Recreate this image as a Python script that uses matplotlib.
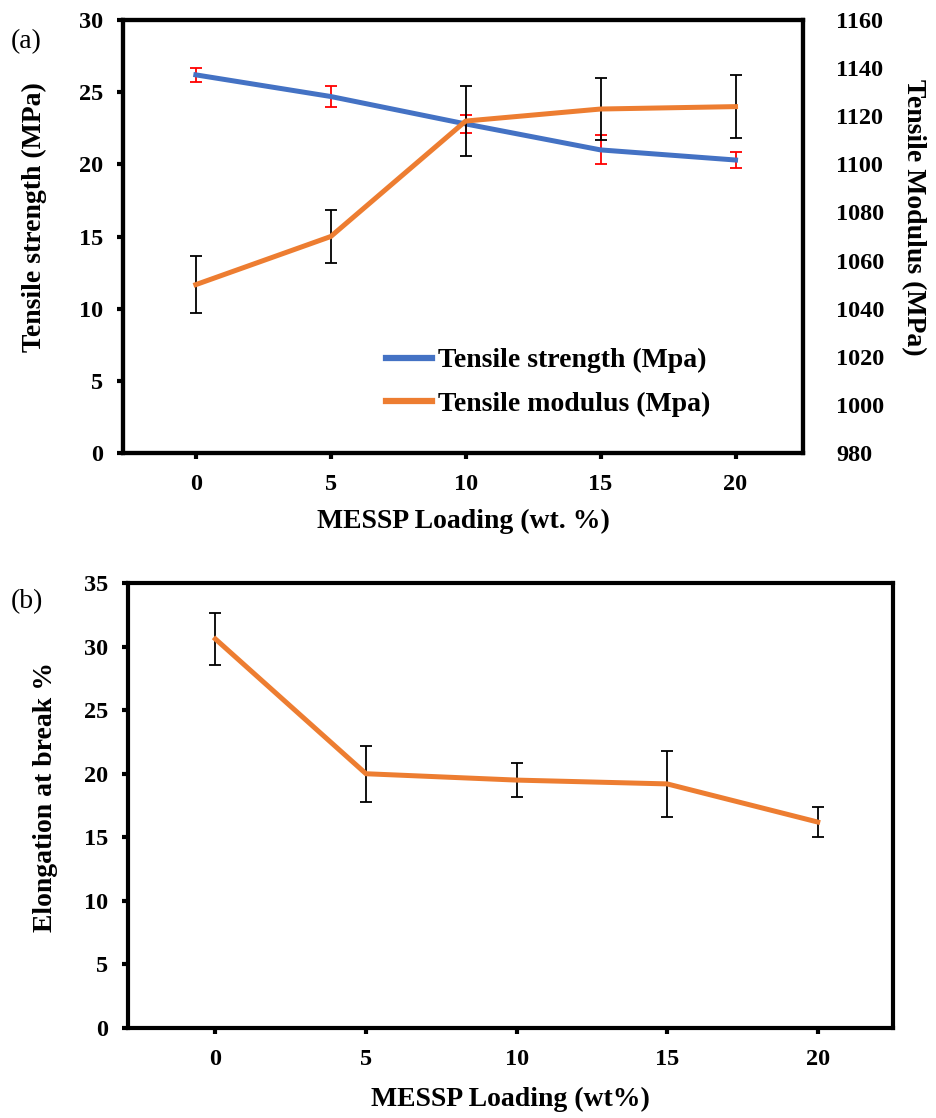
import numpy as np
import matplotlib
matplotlib.use("Agg")
import matplotlib.pyplot as plt
from matplotlib.lines import Line2D

plt.rcParams["font.family"] = ["Liberation Serif", "DejaVu Serif"]
plt.rcParams["font.weight"] = "bold"
plt.rcParams["axes.labelweight"] = "bold"

# MESSP loading (wt. %)
loading = [0, 5, 10, 15, 20]

# panel (a)
strength = [26.2, 24.7, 22.8, 21.0, 20.3]
strength_err = [0.5, 0.75, 0.65, 1.0, 0.55]
modulus = [1050, 1070, 1118, 1123, 1124]
modulus_err = [12, 11, 14.5, 13, 13]

# panel (b)
elongation = [30.6, 20.0, 19.5, 19.2, 16.2]
elongation_err = [2.05, 2.2, 1.35, 2.6, 1.2]

BLUE = "#4472C4"
ORANGE = "#ED7D31"
TICK_FS = 17.5
LABEL_FS = 20
SPINE_W = 3.0

fig = plt.figure(figsize=(9.36, 11.18), dpi=100)


def style_axes(ax):
    for s in ax.spines.values():
        s.set_linewidth(SPINE_W)
        s.set_color("black")
    ax.tick_params(axis="both", direction="out", length=4, width=SPINE_W,
                   labelsize=TICK_FS, pad=11)
    for lab in ax.get_xticklabels() + ax.get_yticklabels():
        lab.set_fontweight("bold")


# ---- (a) tensile strength / modulus ----
ax1 = fig.add_axes([0.1314, 0.5948, 0.7265, 0.3873])
ax1.errorbar(loading, strength, yerr=strength_err, color=BLUE, lw=3.6,
             ecolor="red", elinewidth=1.3, capsize=4, capthick=1.3)
ax1.set_xlim(-2.7, 22.5)
ax1.set_ylim(0, 30)
ax1.set_xticks(loading)
ax1.set_yticks(np.arange(0, 31, 5))
ax1.set_xlabel("MESSP Loading (wt. %)", fontsize=LABEL_FS, labelpad=10)
ax1.set_ylabel("Tensile strength (MPa)", fontsize=LABEL_FS)
ax1.yaxis.set_label_coords(-0.112, 0.545)
style_axes(ax1)
ax1.tick_params(axis="y", pad=10)

ax2 = ax1.twinx()
ax2.errorbar(loading, modulus, yerr=modulus_err, color=ORANGE, lw=3.6,
             ecolor="black", elinewidth=1.3, capsize=4, capthick=1.3)
ax2.set_ylim(980, 1160)
ax2.set_yticks(np.arange(980, 1161, 20))
ax2.set_ylabel("Tensile Modulus (MPa)", fontsize=LABEL_FS, rotation=270,
               va="center")
ax2.yaxis.set_label_coords(1.163, 0.545)
style_axes(ax2)
ax2.tick_params(axis="y", length=0, pad=24)

handles = [Line2D([], [], color=BLUE, lw=4.5),
           Line2D([], [], color=ORANGE, lw=4.5)]
ax2.legend(handles, ["Tensile strength (Mpa)", "Tensile modulus (Mpa)"],
           loc="upper left", bbox_to_anchor=(0.387, 0.243), frameon=False,
           prop={"size": LABEL_FS, "weight": "bold"}, borderpad=0,
           borderaxespad=0, handlelength=1.65, handletextpad=0.22,
           labelspacing=0.65)

fig.text(0.011, 0.9624, "(a)", fontsize=LABEL_FS, fontweight="normal",
         va="center")

# ---- (b) elongation at break ----
ax3 = fig.add_axes([0.1368, 0.0805, 0.8173, 0.398])
ax3.errorbar(loading, elongation, yerr=elongation_err, color=ORANGE, lw=3.6,
             ecolor="black", elinewidth=1.3, capsize=4, capthick=1.3)
ax3.set_xlim(-2.9, 22.5)
ax3.set_ylim(0, 35)
ax3.set_xticks(loading)
ax3.set_yticks(np.arange(0, 36, 5))
ax3.set_xlabel("MESSP Loading (wt%)", fontsize=LABEL_FS, labelpad=12)
ax3.set_ylabel("Elongation at break %", fontsize=LABEL_FS)
ax3.yaxis.set_label_coords(-0.0915, 0.519)
style_axes(ax3)
ax3.tick_params(axis="y", pad=10)

fig.text(0.011, 0.4615, "(b)", fontsize=LABEL_FS, fontweight="normal",
         va="center")

fig.savefig("out.png", dpi=100)
